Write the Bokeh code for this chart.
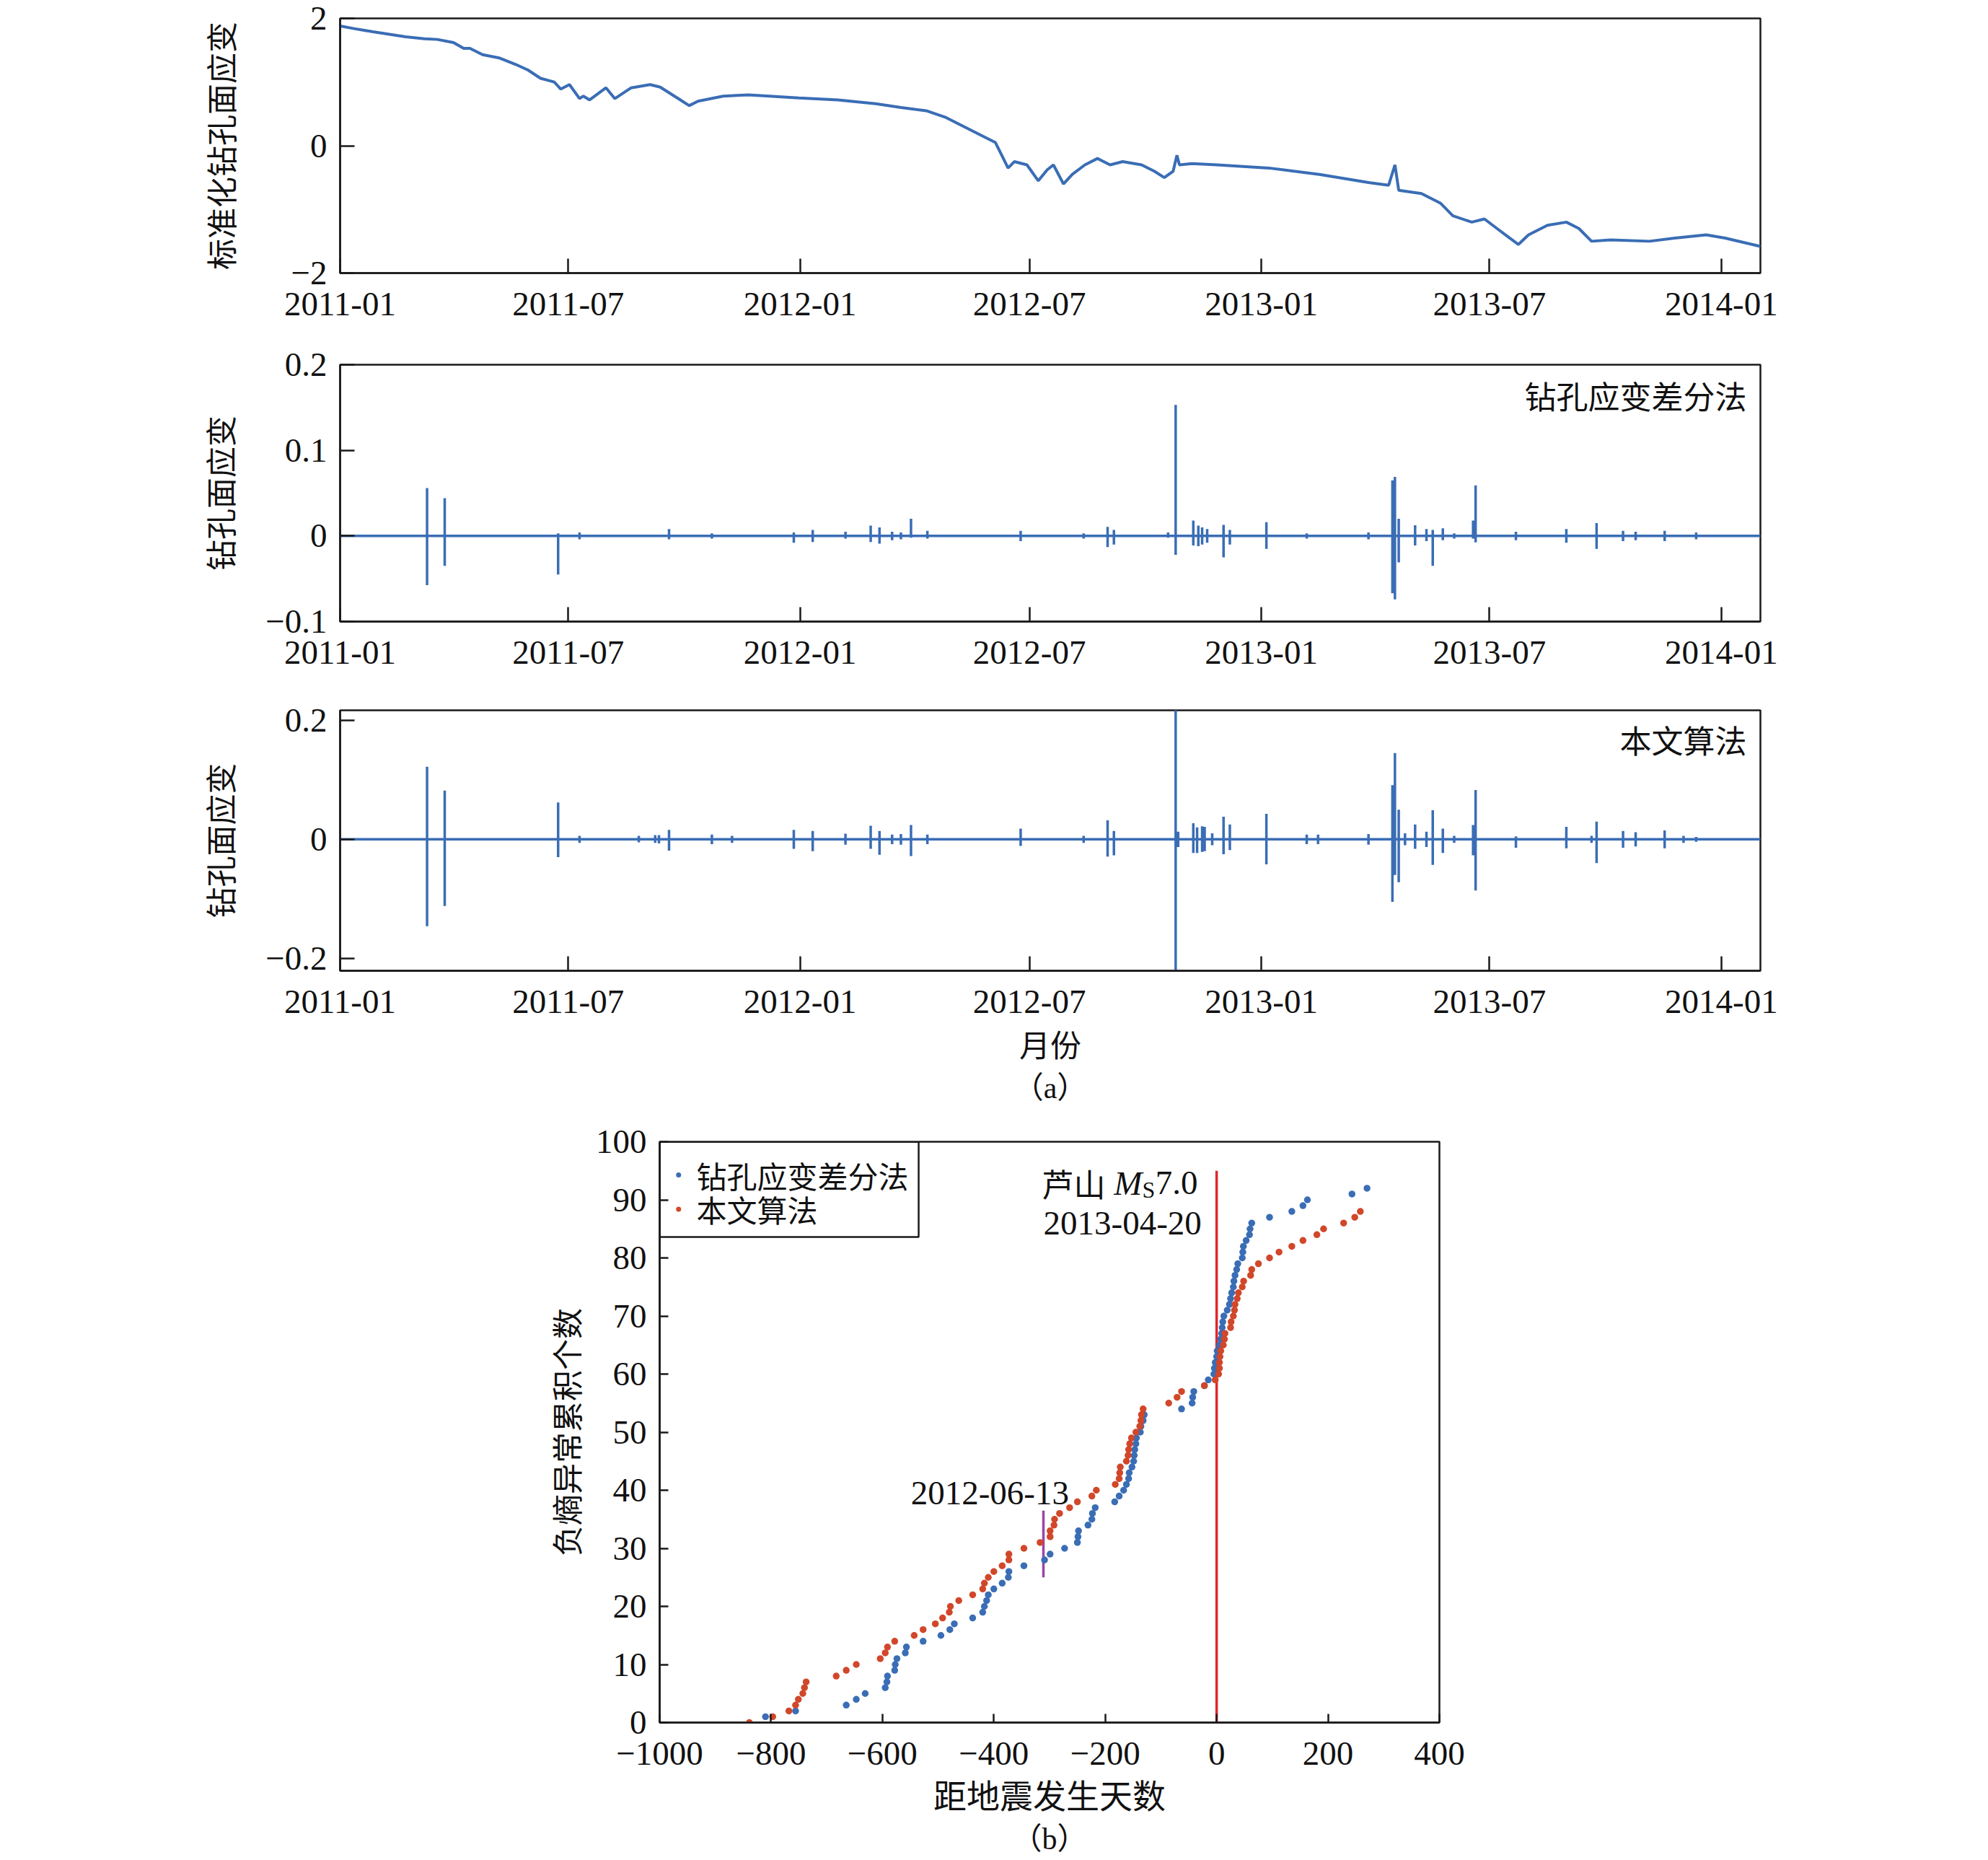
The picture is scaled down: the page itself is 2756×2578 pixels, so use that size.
import pandas as pd
from bokeh.plotting import figure
from bokeh.models import FixedTicker, Range1d, Label, Title, Spacer, BoxAnnotation
from bokeh.layouts import column, row
from bokeh.embed import file_html
from bokeh.resources import INLINE

# ---------------- data: panel (a) ----------------
START = "2011-01-01"
X_END = "2014-02-01"
month_tick_dates = ["2011-01-01", "2011-07-01", "2012-01-01", "2012-07-01",
                    "2013-01-01", "2013-07-01", "2014-01-01"]
month_tick_labels = ["2011-01", "2011-07", "2012-01", "2012-07",
                     "2013-01", "2013-07", "2014-01"]

# normalised borehole areal strain (days since 2011-01-01, value)
strain_day = [0, 11, 26, 39, 52, 67, 77, 90, 98, 103, 113, 126, 139, 149, 159, 170,
              175, 182, 190, 193, 198, 211, 218, 231, 246, 254, 270, 277, 284, 304,
              324, 364, 395, 425, 445, 465, 480, 495, 510, 520, 525, 530, 535, 545,
              554, 561, 566, 574, 581, 591, 601, 611, 621, 636, 646, 654, 661, 664,
              666, 676, 696, 737, 777, 817, 832, 837, 840, 858, 873, 883, 898, 908,
              918, 928, 935, 943, 958, 973, 983, 993, 1008, 1039, 1059, 1084, 1099, 1127]
strain_val = [1.88, 1.84, 1.79, 1.75, 1.71, 1.68, 1.67, 1.62, 1.53, 1.53, 1.43, 1.38,
              1.28, 1.19, 1.06, 1.00, 0.89, 0.96, 0.74, 0.78, 0.72, 0.91, 0.74, 0.91,
              0.96, 0.92, 0.72, 0.63, 0.70, 0.78, 0.80, 0.75, 0.72, 0.66, 0.60, 0.55,
              0.45, 0.30, 0.15, 0.05, -0.15, -0.35, -0.25, -0.30, -0.55, -0.38, -0.30,
              -0.60, -0.45, -0.30, -0.20, -0.30, -0.25, -0.30, -0.40, -0.50, -0.40,
              -0.15, -0.30, -0.28, -0.30, -0.35, -0.45, -0.58, -0.62, -0.30, -0.70,
              -0.75, -0.90, -1.10, -1.20, -1.15, -1.30, -1.45, -1.55, -1.40, -1.25,
              -1.20, -1.30, -1.50, -1.48, -1.50, -1.45, -1.40, -1.45, -1.58]

# borehole strain difference method: spikes (day, max, min)
diff_day = [69, 83, 173, 190, 261, 295, 360, 375, 401, 421, 428, 438, 445, 453, 466,
            540, 590, 609, 614, 657, 663, 677, 681, 684, 688, 701, 706, 735, 767, 816,
            835, 837, 840, 853, 862, 867, 875, 884, 899, 901, 933, 973, 997, 1018,
            1028, 1051, 1076]
diff_up = [0.056, 0.044, 0.003, 0.004, 0.008, 0.003, 0.004, 0.007, 0.005, 0.012,
           0.010, 0.005, 0.004, 0.020, 0.006, 0.006, 0.003, 0.0105, 0.007, 0.004,
           0.153, 0.018, 0.012, 0.010, 0.008, 0.013, 0.007, 0.016, 0.003, 0.004,
           0.065, 0.069, 0.020, 0.0125, 0.008, 0.007, 0.009, 0.003, 0.018, 0.059,
           0.005, 0.008, 0.015, 0.006, 0.005, 0.006, 0.004]
diff_down = [-0.0575, -0.035, -0.045, -0.004, -0.004, -0.003, -0.008, -0.007, -0.003,
             -0.007, -0.009, -0.005, -0.004, -0.002, -0.003, -0.006, -0.003, -0.013,
             -0.010, -0.002, -0.022, -0.011, -0.012, -0.010, -0.008, -0.025, -0.010,
             -0.015, -0.003, -0.004, -0.067, -0.074, -0.031, -0.011, -0.006, -0.035,
             -0.005, -0.003, -0.003, -0.0075, -0.005, -0.008, -0.015, -0.006, -0.005,
             -0.006, -0.004]

# this paper's algorithm: spikes (day, max, min)
algo_day = [69, 83, 173, 190, 237, 250, 253, 261, 295, 311, 360, 375, 401, 421, 428,
            438, 445, 453, 466, 540, 590, 609, 614, 663, 665, 677, 680, 684, 686, 692,
            701, 706, 735, 767, 776, 816, 835, 837, 840, 845, 853, 862, 867, 875, 884,
            899, 901, 933, 973, 993, 997, 1018, 1028, 1051, 1066, 1076]
algo_up = [0.122, 0.082, 0.062, 0.006, 0.006, 0.007, 0.007, 0.016, 0.008, 0.006,
           0.016, 0.014, 0.0095, 0.023, 0.014, 0.008, 0.009, 0.024, 0.008, 0.018,
           0.006, 0.032, 0.014, 0.25, 0.013, 0.027, 0.020, 0.022, 0.021, 0.010,
           0.038, 0.025, 0.043, 0.008, 0.008, 0.009, 0.091, 0.145, 0.050, 0.010,
           0.025, 0.013, 0.049, 0.018, 0.006, 0.024, 0.083, 0.005, 0.021, 0.006,
           0.030, 0.014, 0.012, 0.015, 0.006, 0.004]
algo_down = [-0.146, -0.112, -0.030, -0.006, -0.005, -0.006, -0.007, -0.019, -0.008,
             -0.006, -0.016, -0.020, -0.009, -0.016, -0.026, -0.008, -0.009, -0.028,
             -0.008, -0.011, -0.006, -0.029, -0.027, -0.25, -0.013, -0.023, -0.023,
             -0.021, -0.020, -0.010, -0.025, -0.018, -0.042, -0.008, -0.008, -0.009,
             -0.105, -0.060, -0.072, -0.010, -0.016, -0.013, -0.043, -0.023, -0.006,
             -0.027, -0.086, -0.014, -0.015, -0.006, -0.040, -0.014, -0.012, -0.015,
             -0.006, -0.004]

# ---------------- data: panel (b) ----------------
series_names = ["钻孔应变差分法", "本文算法"]
blue_day = [-810, -756, -665, -647, -631, -595, -592, -591, -578, -577, -574, -559,
            -557, -527, -495, -479, -471, -438, -420, -417, -413, -410, -400, -385,
            -374, -373, -346, -309, -299, -273, -250, -249, -248, -231, -224, -223,
            -218, -183, -175, -167, -162, -158, -157, -152, -149, -148, -147, -145,
            -144, -137, -136, -132, -130, -63, -44, -43, -41, -22, -15, -5, -4, -2.5,
            0, 1, 5, 7, 9, 10, 11, 13, 19, 23, 25, 27, 30, 31, 33, 36, 38, 46, 47, 48,
            53, 59, 60, 63, 95, 135, 155, 163, 243, 270]
blue_count = list(range(1, 93))
red_day = [-839, -797, -768, -756, -751, -743, -740, -737, -683, -665, -647, -604,
           -595, -591, -578, -543, -527, -505, -492, -480, -478, -463, -438, -420,
           -417, -410, -400, -385, -373, -373, -346, -317, -299, -299, -292, -291,
           -282, -264, -250, -224, -216, -182, -175, -174, -173, -162, -159, -158,
           -156, -153, -145, -138, -136, -135, -132, -86, -71, -63, -22, -2.5, 3.5,
           5, 5, 6, 7.4, 12, 14, 15, 25, 26, 30, 32, 33, 37, 39, 46, 48.5, 61, 63,
           75, 95, 112, 135, 155, 180, 192, 228, 248, 258]
red_count = list(range(0, 89))
b_xticks = [-1000, -800, -600, -400, -200, 0, 200, 400]
b_xlabels = ["\u22121000", "\u2212800", "\u2212600", "\u2212400", "\u2212200", "0", "200", "400"]
b_yticks = [0, 10, 20, 30, 40, 50, 60, 70, 80, 90, 100]
quake_day, quake_top = 0, 95
mark_day, mark_low, mark_high = -311, 25, 36.5

BLUE = "#3a6db5"
RED = "#d1472a"
SERIF = "Liberation Serif"
CJK = "Noto Sans CJK SC"
FS = "47px"

def d(s):
    return (pd.Timestamp(s) - pd.Timestamp(START)).days

XMAX = d(X_END)
xt = [d(s) for s in month_tick_dates]


def spike_line(days, ups, downs):
    xs, ys = [0], [0.0]
    for dd, u, w in zip(days, ups, downs):
        xs += [dd, dd, dd, dd]
        ys += [0.0, u, w, 0.0]
    xs.append(XMAX)
    ys.append(0.0)
    return xs, ys


def style(p, tick_len):
    p.outline_line_color = "#1a1a1a"
    p.outline_line_width = 2.5
    p.grid.visible = False
    for ax in (p.xaxis[0], p.yaxis[0]):
        ax.axis_line_color = "#1a1a1a"
        ax.axis_line_width = 2.5
        ax.major_tick_line_color = "#1a1a1a"
        ax.major_tick_line_width = 2.5
        ax.major_tick_in = tick_len
        ax.major_tick_out = 0
        ax.minor_tick_line_color = None
        ax.major_label_text_font = SERIF
        ax.major_label_text_font_size = FS
        ax.major_label_text_color = "#111111"
        ax.major_label_standoff = 18
        ax.axis_label_text_font = CJK
        ax.axis_label_text_font_size = "43px"
        ax.axis_label_text_font_style = "normal"
        ax.axis_label_text_color = "#111111"
    p.xaxis.major_label_standoff = 27


def panel_a(top, fh, bottom, yr, yticks, ylabels, ylab, lab_standoff):
    p = figure(frame_width=1969, frame_height=fh, min_border_left=471,
               min_border_right=300, min_border_top=top, min_border_bottom=bottom,
               x_range=Range1d(0, XMAX), y_range=Range1d(*yr),
               output_backend="svg", toolbar_location=None)
    style(p, 20)
    p.xaxis.ticker = FixedTicker(ticks=xt)
    p.xaxis.major_label_overrides = dict(zip(xt, month_tick_labels))
    p.yaxis.ticker = FixedTicker(ticks=yticks)
    p.yaxis.major_label_overrides = dict(zip(yticks, ylabels))
    p.yaxis.axis_label = ylab
    p.yaxis.axis_label_standoff = lab_standoff
    return p

p1 = panel_a(25, 353, 70, (-2, 2), [-2, 0, 2], ["\u22122", "0", "2"], "标准化钻孔面应变", 64)
p1.line(strain_day, strain_val, line_color=BLUE, line_width=4)

p2 = panel_a(57, 356, 67, (-0.1, 0.2), [-0.1, 0, 0.1, 0.2],
             ["\u22120.1", "0", "0.1", "0.2"], "钻孔面应变", 30)
x2, y2 = spike_line(diff_day, diff_up, diff_down)
p2.line(x2, y2, line_color=BLUE, line_width=3.5)
p2.add_layout(Label(x=XMAX, y=0.1646, x_offset=-19, text=series_names[0], text_align="right",
                    text_baseline="middle", text_font=CJK, text_font_size="44px",
                    text_color="#111111"))

p3 = panel_a(56, 361, 205, (-0.221, 0.217), [-0.2, 0, 0.2],
             ["\u22120.2", "0", "0.2"], "钻孔面应变", 30)
x3, y3 = spike_line(algo_day, algo_up, algo_down)
p3.line(x3, y3, line_color=BLUE, line_width=3.5)
p3.add_layout(Label(x=XMAX, y=0.1676, x_offset=-19, text=series_names[1], text_align="right",
                    text_baseline="middle", text_font=CJK, text_font_size="44px",
                    text_color="#111111"))
p3.xaxis.axis_label = "月份"
p3.xaxis.axis_label_standoff = 8
p3.add_layout(Title(text="（a）", align="center", text_font="Liberation Serif, Noto Sans CJK SC",
                    text_font_size="42px", text_font_style="normal", standoff=6,
                    text_color="#111111"), "below")

# ---------------- panel (b) ----------------
pb = figure(frame_width=1081, frame_height=805, min_border_left=471, min_border_right=300,
            min_border_top=32, min_border_bottom=175,
            x_range=Range1d(-1000, 400), y_range=Range1d(0, 100),
            output_backend="svg", toolbar_location=None)
style(pb, 12)
pb.xaxis.ticker = FixedTicker(ticks=b_xticks)
pb.xaxis.major_label_overrides = dict(zip(b_xticks, b_xlabels))
pb.yaxis.ticker = FixedTicker(ticks=b_yticks)
pb.yaxis.axis_label = "负熵异常累积个数"
pb.yaxis.axis_label_standoff = 8
pb.xaxis.axis_label = "距地震发生天数"
pb.xaxis.axis_label_standoff = 4
pb.xaxis.axis_label_text_font_size = "46px"

pb.segment(x0=[quake_day], y0=[0], x1=[quake_day], y1=[quake_top], line_color="#e0262b", line_width=3.5)
pb.segment(x0=[mark_day], y0=[mark_low], x1=[mark_day], y1=[mark_high], line_color="#9b45a8", line_width=3.5)
pb.scatter(blue_day, blue_count, size=9.5, fill_color=BLUE, line_color=None)
pb.scatter(red_day, red_count, size=9.5, fill_color=RED, line_color=None)

# legend box (top-left corner of the frame)
pb.add_layout(BoxAnnotation(left=-1000, right=-535, bottom=83.6, top=100,
                            fill_alpha=0, line_color="#1a1a1a", line_alpha=1,
                            line_width=2.5))
leg_y = [94.3, 88.4]
pb.scatter([-966, -966], leg_y, size=7, fill_color=[BLUE, RED], line_color=None)
for yy, name in zip(leg_y, series_names):
    pb.add_layout(Label(x=-934, y=yy, text=name, text_align="left", text_baseline="middle",
                        text_font=CJK, text_font_size="42px", text_color="#111111"))

pb.add_layout(Label(x=-265, y=39.5, text="2012-06-13", text_align="right",
                    text_baseline="alphabetic", text_font=SERIF, text_font_size=FS,
                    text_color="#111111"))
pb.add_layout(Label(x=-27, y=86.0, text="2013-04-20", text_align="right",
                    text_baseline="alphabetic", text_font=SERIF, text_font_size=FS,
                    text_color="#111111"))
pb.add_layout(Label(x=-34, y=92.9, text="7.0", text_align="right",
                    text_baseline="alphabetic", text_font=SERIF, text_font_size=FS,
                    text_color="#111111"))
pb.add_layout(Label(x=-34, y=91.7, x_offset=-59, text="S", text_align="right",
                    text_baseline="alphabetic", text_font=SERIF, text_font_size="32px",
                    text_color="#111111"))
pb.add_layout(Label(x=-34, y=92.9, x_offset=-77, text="M", text_align="right",
                    text_baseline="alphabetic", text_font=SERIF, text_font_size=FS,
                    text_font_style="italic", text_color="#111111"))
pb.add_layout(Label(x=-34, y=92.9, x_offset=-128, text="芦山", text_align="right",
                    text_baseline="alphabetic", text_font=CJK, text_font_size="44px",
                    text_color="#111111"))
pb.add_layout(Title(text="（b）", align="center", text_font="Liberation Serif, Noto Sans CJK SC",
                    text_font_size="42px", text_font_style="normal", standoff=4,
                    text_color="#111111"), "below")

layout = column(column(p1, p2, p3, spacing=0), row(Spacer(width=443), pb, spacing=0), spacing=0)
open("out.html", "w").write(file_html(layout, INLINE))
